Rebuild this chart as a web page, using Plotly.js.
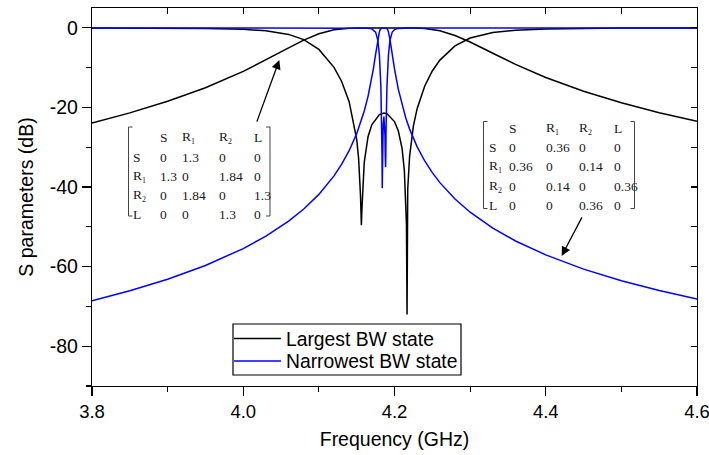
<!DOCTYPE html>
<html>
<head>
<meta charset="utf-8">
<script src="https://cdn.plot.ly/plotly-3.0.1.min.js"></script>
<style>
  html, body { margin: 0; padding: 0; background: #fff; }
  #chart { width: 709px; height: 455px; }
</style>
</head>
<body>
<div id="chart"></div>
<script>
// ---- Largest BW state (GHz, dB) ----
const freqLargeS21 = [3.80, 3.85, 3.90, 3.95, 4.00, 4.03, 4.06, 4.08, 4.10, 4.12, 4.13, 4.14, 4.15, 4.16, 4.17, 4.18, 4.186, 4.19, 4.20, 4.21, 4.22, 4.23, 4.24, 4.25, 4.26, 4.28, 4.30, 4.33, 4.36, 4.40, 4.45, 4.50, 4.55, 4.60];
const largeS21 = [-23.89, -21.36, -18.45, -15.03, -10.93, -8.08, -5.03, -3.08, -1.476, -0.468, -0.203, -0.061, -0.007, -0.002, -0.016, -0.029, -0.031, -0.030, -0.019, -0.004, -0.003, -0.041, -0.154, -0.374, -0.733, -1.897, -3.543, -6.381, -9.160, -12.461, -15.932, -18.83, -21.30, -23.45];

const freqLargeS11 = [3.80, 3.85, 3.90, 3.95, 4.00, 4.03, 4.06, 4.08, 4.10, 4.12, 4.13, 4.14, 4.15, 4.1525, 4.155, 4.1562, 4.157, 4.158, 4.16, 4.165, 4.17, 4.18, 4.186, 4.19, 4.20, 4.205, 4.21, 4.213, 4.215, 4.2158, 4.2166, 4.2175, 4.22, 4.225, 4.23, 4.24, 4.25, 4.26, 4.28, 4.30, 4.33, 4.36, 4.40, 4.45, 4.50, 4.55, 4.60];
const largeS11 = [-0.018, -0.032, -0.063, -0.139, -0.366, -0.735, -1.637, -2.946, -5.404, -9.905, -13.41, -18.54, -28.01, -32.74, -41.98, -49.6, -45.31, -39.71, -33.78, -27.35, -24.35, -21.78, -21.42, -21.58, -23.55, -25.87, -30.28, -35.74, -43.97, -49.3, -72.0, -40.48, -32.20, -24.62, -20.23, -14.59, -10.83, -8.092, -4.512, -2.536, -1.136, -0.562, -0.254, -0.112, -0.057, -0.032, -0.020];

// ---- Narrowest BW state (GHz, dB) ----
const freqNarrowS21 = [3.80, 3.85, 3.90, 3.95, 4.00, 4.03, 4.06, 4.08, 4.10, 4.12, 4.13, 4.14, 4.15, 4.16, 4.165, 4.17, 4.172, 4.175, 4.178, 4.18, 4.181, 4.182, 4.183, 4.184, 4.186, 4.188, 4.189, 4.19, 4.191, 4.192, 4.194, 4.197, 4.20, 4.205, 4.21, 4.215, 4.22, 4.23, 4.24, 4.25, 4.26, 4.28, 4.30, 4.33, 4.36, 4.40, 4.45, 4.50, 4.55, 4.60];
const narrowS21 = [-68.60, -66.07, -63.16, -59.70, -55.46, -52.33, -48.56, -45.51, -41.84, -37.19, -34.31, -30.87, -26.58, -20.90, -17.20, -12.56, -10.36, -6.665, -2.888, -1.013, -0.455, -0.146, -0.021, 0.0, -0.026, 0.0, -0.021, -0.146, -0.455, -1.013, -2.888, -6.665, -10.30, -15.40, -19.41, -22.69, -25.44, -29.91, -33.45, -36.38, -38.89, -43.01, -46.32, -50.32, -53.55, -57.06, -60.62, -63.54, -66.01, -68.16];

const freqNarrowS11 = [3.80, 4.10, 4.14, 4.15, 4.16, 4.165, 4.17, 4.175, 4.178, 4.18, 4.182, 4.183, 4.1835, 4.1838, 4.1842, 4.1846, 4.185, 4.186, 4.187, 4.1874, 4.1878, 4.1882, 4.1885, 4.1888, 4.189, 4.19, 4.192, 4.194, 4.197, 4.20, 4.205, 4.21, 4.22, 4.25, 4.60];
const narrowS11 = [0.0, -0.0003, -0.0036, -0.0095, -0.0354, -0.0836, -0.248, -1.054, -3.136, -6.818, -14.81, -23.12, -32.1, -40.3, -32.4, -26.9, -24.31, -22.27, -24.31, -26.9, -32.4, -35.0, -32.1, -25.9, -23.12, -14.81, -6.82, -3.14, -1.054, -0.4253, -0.127, -0.050, -0.0124, -0.001, 0.0];

// ---- coupling matrices shown as insets ----
const matrixLabels = ['S', 'R<sub><span style="font-size:8px">1</span></sub>', 'R<sub><span style="font-size:8px">2</span></sub>', 'L'];
const matrixLargest = [
  ['0', '1.3', '0', '0'],
  ['1.3', '0', '1.84', '0'],
  ['0', '1.84', '0', '1.3'],
  ['0', '0', '1.3', '0']
];
const matrixNarrowest = [
  ['0', '0.36', '0', '0'],
  ['0.36', '0', '0.14', '0'],
  ['0', '0.14', '0', '0.36'],
  ['0', '0', '0.36', '0']
];

const legendNames = ['Largest BW state', 'Narrowest BW state'];

// plot-area geometry (pixels)
const W = 709, H = 455;
const M = { l: 92, r: 12, t: 8, b: 69 };
const plotW = W - M.l - M.r, plotH = H - M.t - M.b;
const px = x => (x - M.l) / plotW;          // pixel x -> paper x
const py = y => (H - M.b - y) / plotH;      // pixel y -> paper y

const BLACK = '#000000', BLUE = '#0000ff';

const traces = [
  { x: freqLargeS21, y: largeS21, mode: 'lines', name: legendNames[0],
    line: { color: BLACK, width: 1.5 } },
  { x: freqLargeS11, y: largeS11, mode: 'lines', name: legendNames[0],
    line: { color: BLACK, width: 1.5 } },
  { x: freqNarrowS21, y: narrowS21, mode: 'lines', name: legendNames[1],
    line: { color: BLUE, width: 1.5 } },
  { x: freqNarrowS11, y: narrowS11, mode: 'lines', name: legendNames[1],
    line: { color: BLUE, width: 1.5 } },
  // empty trace so the mirrored top/right tick axes are drawn
  { x: [], y: [], xaxis: 'x2', yaxis: 'y2', hoverinfo: 'skip' }
];

const FONT = 'Liberation Sans, Arial, sans-serif';
const SERIF = 'Liberation Serif, Times New Roman, serif';
const XR = [3.8, 4.6], YR = [-90, 5];

// matrix inset: header row + 4 labelled rows, left-aligned columns
function matrixAnnotations(values, colX, rowY) {
  const out = [];
  const cell = (text, x, y) => out.push({
    xref: 'paper', yref: 'paper', x: px(x), y: py(y), xanchor: 'left', yanchor: 'middle',
    text: text, showarrow: false, font: { family: SERIF, size: 13.5, color: '#1a1a1a' }
  });
  matrixLabels.forEach((lab, j) => cell(lab, colX[j + 1], rowY[0]));
  values.forEach((row, i) => {
    cell(matrixLabels[i], colX[0], rowY[i + 1]);
    row.forEach((v, j) => cell(v, colX[j + 1], rowY[i + 1]));
  });
  return out;
}
function bracketShapes(xl, xr, yt, yb) {
  const ln = { color: '#444', width: 1 };
  const s = (x0, y0, x1, y1) => ({ type: 'line', xref: 'paper', yref: 'paper',
    x0: px(x0), y0: py(y0), x1: px(x1), y1: py(y1), line: ln });
  return [
    s(xl, yt, xl, yb), s(xl, yt, xl + 4, yt), s(xl, yb, xl + 4, yb),
    s(xr, yt, xr, yb), s(xr, yt, xr - 4, yt), s(xr, yb, xr - 4, yb)
  ];
}

// legend drawn as a boxed key
const legendBox = { x0: 233, y0: 324, x1: 461, y1: 375 };
const legendRows = [
  { name: legendNames[0], color: BLACK, y: 338.5 },
  { name: legendNames[1], color: BLUE, y: 361 }
];
const legendShapes = [
  { type: 'rect', xref: 'paper', yref: 'paper', x0: px(legendBox.x0), x1: px(legendBox.x1),
    y0: py(legendBox.y0), y1: py(legendBox.y1), line: { color: BLACK, width: 1.2 }, fillcolor: '#fff' },
  ...legendRows.map(r => ({ type: 'line', xref: 'paper', yref: 'paper',
    x0: px(234), x1: px(281), y0: py(r.y), y1: py(r.y), line: { color: r.color, width: 1.5 } }))
];
const legendTexts = legendRows.map(r => ({
  xref: 'paper', yref: 'paper', x: px(284), y: py(r.y + 0.5), xanchor: 'left', yanchor: 'middle',
  text: r.name, showarrow: false, font: { family: FONT, size: 19.3, color: BLACK }
}));

const annotations = [
  ...matrixAnnotations(matrixLargest, [131, 157.5, 180, 216.5, 252], [137.5, 157.5, 176.5, 195.5, 214.5]),
  ...matrixAnnotations(matrixNarrowest, [486.5, 506.5, 543.5, 576.5, 612], [128.5, 147.5, 166.5, 186, 205]),
  { x: 4.0477, y: -8.1, xref: 'x', yref: 'y', ax: -23, ay: 63, text: '', showarrow: true,
    arrowhead: 2, arrowsize: 1.4, arrowwidth: 1.3, arrowcolor: BLACK, standoff: 0 },
  { x: 4.4211, y: -57.3, xref: 'x', yref: 'y', ax: 21, ay: -40, text: '', showarrow: true,
    arrowhead: 2, arrowsize: 1.4, arrowwidth: 1.3, arrowcolor: BLACK, standoff: 0 },
  ...legendTexts
];

const shapes = [
  ...bracketShapes(128.5, 270, 127, 216),
  ...bracketShapes(483.5, 634.5, 121.5, 208.5),
  ...legendShapes
];

const axisCommon = { showgrid: false, zeroline: false, linecolor: BLACK, linewidth: 1.2,
  tickcolor: BLACK, tickwidth: 1.2, ticklabeloverflow: 'allow' };

const layout = {
  width: W, height: H,
  margin: M,
  paper_bgcolor: '#fff', plot_bgcolor: '#fff',
  font: { family: FONT, color: BLACK },
  showlegend: false,
  xaxis: Object.assign({}, axisCommon, {
    range: XR, tickvals: [3.8, 4.0, 4.2, 4.4, 4.6], ticktext: ['3.8', '4.0', '4.2', '4.4', '4.6'],
    tickfont: { family: FONT, size: 18.5, color: BLACK },
    ticks: 'outside', ticklen: 9, showline: true, mirror: true,
    minor: { tickvals: [3.9, 4.1, 4.3, 4.5], ticks: 'outside', ticklen: 5, tickcolor: BLACK, tickwidth: 1.2 },
    title: { text: 'Frequency (GHz)', font: { family: FONT, size: 19.5, color: BLACK }, standoff: 11 }
  }),
  yaxis: Object.assign({}, axisCommon, {
    range: YR, tickvals: [0, -20, -40, -60, -80], ticktext: ['0', '-20', '-40', '-60', '-80'],
    tickfont: { family: FONT, size: 19.5, color: BLACK },
    ticks: 'outside', ticklen: 9, showline: true, mirror: true,
    minor: { tickvals: [-10, -30, -50, -70, -90], ticks: 'outside', ticklen: 5, tickcolor: BLACK, tickwidth: 1.2 },
    title: { text: 'S parameters (dB)', font: { family: FONT, size: 19.5, color: BLACK }, standoff: 10 }
  }),
  xaxis2: { overlaying: 'x', anchor: 'y2', side: 'top', range: XR, showgrid: false, zeroline: false,
    showline: false, showticklabels: false, ticks: 'inside', ticklen: 6, tickcolor: BLACK, tickwidth: 1.2,
    tickvals: [3.8, 4.0, 4.2, 4.4, 4.6],
    minor: { tickvals: [3.9, 4.1, 4.3, 4.5], ticks: 'inside', ticklen: 6, tickcolor: BLACK, tickwidth: 1.2 } },
  yaxis2: { overlaying: 'y', anchor: 'x2', side: 'right', range: YR, showgrid: false, zeroline: false,
    showline: false, showticklabels: false, ticks: 'inside', ticklen: 6, tickcolor: BLACK, tickwidth: 1.2,
    tickvals: [0, -20, -40, -60, -80],
    minor: { tickvals: [-10, -30, -50, -70], ticks: 'inside', ticklen: 6, tickcolor: BLACK, tickwidth: 1.2 } },
  annotations: annotations,
  shapes: shapes
};

Plotly.newPlot('chart', traces, layout, { staticPlot: true, displayModeBar: false });
</script>
</body>
</html>
